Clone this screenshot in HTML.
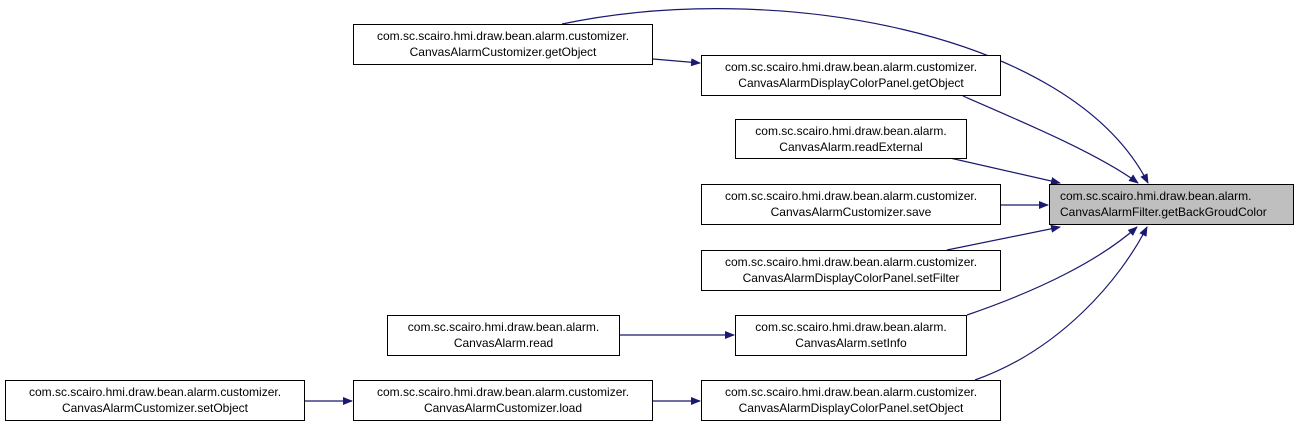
<!DOCTYPE html>
<html><head><style>
body{margin:0;width:1299px;height:427px;background:#fff;position:relative;overflow:hidden;font-family:"Liberation Sans",Arial,sans-serif;font-size:12px;}
.b{position:absolute;box-sizing:border-box;border:1px solid #000;background:#fff;text-align:center;line-height:16px;padding-top:3px;color:#000;}
.t{background:#bfbfbf;text-align:left;padding-left:10px;}
svg{position:absolute;left:0;top:0;}
</style></head><body>
<svg width="1299" height="427">
<defs><marker id="a" markerWidth="10" markerHeight="8" refX="9" refY="4" orient="auto" markerUnits="userSpaceOnUse"><path d="M0,0 L10,4 L0,8 z" fill="#191970"/></marker></defs>
<g fill="none" stroke="#191970" stroke-width="1.2" marker-end="url(#a)">
<path d="M562,24 C770,-20 1070,30 1148,183"/>
<path d="M653,59 L700,63"/>
<path d="M963,96 C1030,125 1100,155 1138,183"/>
<path d="M950,158 L1060,183"/>
<path d="M1001,205 L1048,205"/>
<path d="M947,250 L1060,227"/>
<path d="M967,315 C1040,290 1100,260 1137,227"/>
<path d="M975,380 C1060,350 1120,280 1147,227"/>
<path d="M620,335 L734,335"/>
<path d="M305,401 L352,401"/>
<path d="M653,401 L700,401"/>
</g>
</svg>
<div class="b" style="left:353px;top:24px;width:300px;height:41px">com.sc.scairo.hmi.draw.bean.alarm.customizer.<br>CanvasAlarmCustomizer.getObject</div>
<div class="b" style="left:701px;top:55px;width:300px;height:41px">com.sc.scairo.hmi.draw.bean.alarm.customizer.<br>CanvasAlarmDisplayColorPanel.getObject</div>
<div class="b" style="left:735px;top:119px;width:232px;height:40px">com.sc.scairo.hmi.draw.bean.alarm.<br>CanvasAlarm.readExternal</div>
<div class="b" style="left:701px;top:184px;width:300px;height:41px">com.sc.scairo.hmi.draw.bean.alarm.customizer.<br>CanvasAlarmCustomizer.save</div>
<div class="b" style="left:701px;top:250px;width:300px;height:41px">com.sc.scairo.hmi.draw.bean.alarm.customizer.<br>CanvasAlarmDisplayColorPanel.setFilter</div>
<div class="b" style="left:387px;top:315px;width:233px;height:41px">com.sc.scairo.hmi.draw.bean.alarm.<br>CanvasAlarm.read</div>
<div class="b" style="left:735px;top:315px;width:232px;height:41px">com.sc.scairo.hmi.draw.bean.alarm.<br>CanvasAlarm.setInfo</div>
<div class="b" style="left:5px;top:380px;width:300px;height:41px">com.sc.scairo.hmi.draw.bean.alarm.customizer.<br>CanvasAlarmCustomizer.setObject</div>
<div class="b" style="left:353px;top:380px;width:300px;height:41px">com.sc.scairo.hmi.draw.bean.alarm.customizer.<br>CanvasAlarmCustomizer.load</div>
<div class="b" style="left:701px;top:380px;width:300px;height:41px">com.sc.scairo.hmi.draw.bean.alarm.customizer.<br>CanvasAlarmDisplayColorPanel.setObject</div>
<div class="b t" style="left:1049px;top:184px;width:245px;height:41px">com.sc.scairo.hmi.draw.bean.alarm.<br>CanvasAlarmFilter.getBackGroudColor</div>
</body></html>
